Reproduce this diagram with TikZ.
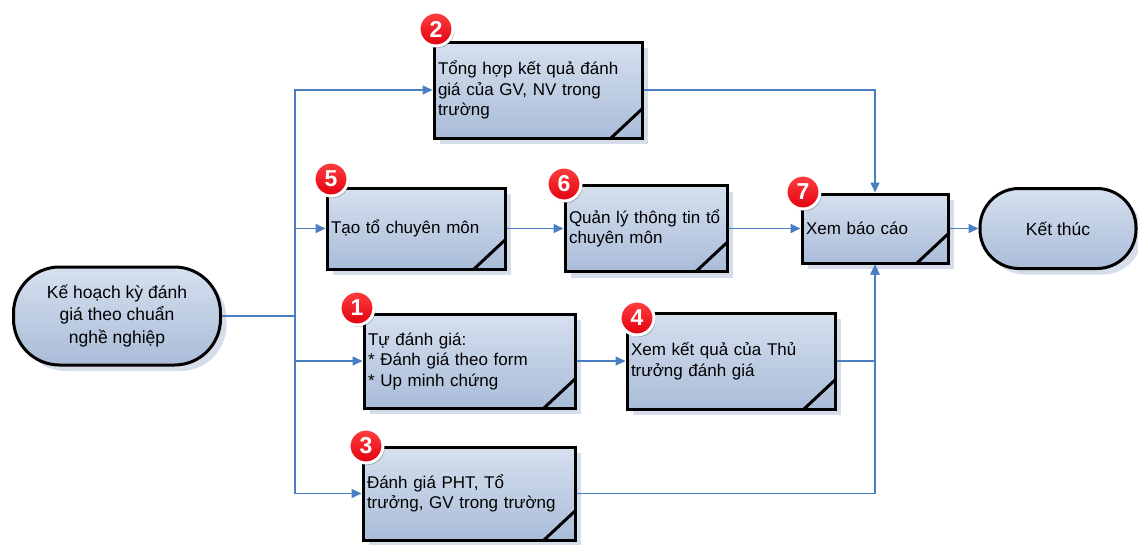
\documentclass[tikz,border=0pt]{standalone}
\usepackage{fontspec}
\setmainfont{Liberation Sans}
\usetikzlibrary{arrows.meta,shadows}
\definecolor{boxtop}{HTML}{D6E0EF}
\definecolor{boxbot}{HTML}{A9BCD8}
\definecolor{flowblue}{HTML}{4A7EC2}
\definecolor{boxshade}{HTML}{D5DDEB}
\definecolor{badgered}{HTML}{E2000F}
\tikzset{
  pbox/.style={rectangle, draw=black, line width=3pt, top color=boxtop, bottom color=boxbot,
               align=left, inner xsep=4pt, inner ysep=0pt, font=\fontsize{17}{20.5}\selectfont,
               drop shadow={shadow xshift=6pt, shadow yshift=-6pt, fill=boxshade, opacity=1},
               path picture={\draw[line width=3pt] ([xshift=-31pt]path picture bounding box.south east)
                             -- ([yshift=29pt]path picture bounding box.south east);}},
  pterm/.style={rectangle, draw=black, line width=3pt, top color=boxtop, bottom color=boxbot,
                align=center, inner sep=0pt, font=\fontsize{17.5}{22.5}\selectfont,
                drop shadow={shadow xshift=6pt, shadow yshift=-6pt, fill=boxshade, opacity=1}},
  pnum/.style={circle, draw=white, line width=3pt, top color=red!75!white, bottom color=badgered,
               minimum size=34pt, inner sep=0pt, text=white, font=\fontsize{23}{23}\selectfont\bfseries,
               drop shadow={shadow xshift=1.5pt, shadow yshift=-2pt, fill=black, opacity=0.25}},
  pflow/.style={draw=flowblue, line width=1.6pt, -{Triangle[length=10pt,width=9pt]}},
  pline/.style={draw=flowblue, line width=1.6pt},
}

\begin{document}
\begin{tikzpicture}[x=1pt,y=-1pt]
  \useasboundingbox (0,0) rectangle (1138,544);
  % start and end
  \node[pterm, rounded corners=46pt, minimum width=207pt, minimum height=98pt] (start) at (117,316)
       {Kế hoạch kỳ đánh\\giá theo chuẩn\\nghề nghiệp};
  \node[pterm, rounded corners=39pt, minimum width=156pt, minimum height=80pt] (stop) at (1058,228.5)
       {Kết thúc};
  % steps
  \node[pbox, text width=200pt, minimum height=96pt] (b2) at (538,90)
       {Tổng hợp kết quả đánh\\giá của GV, NV trong\\trường};
  \node[pbox, text width=170pt, minimum height=81pt] (b5) at (416,228.5) {Tạo tổ chuyên môn};
  \node[pbox, text width=154pt, minimum height=86pt] (b6) at (646,228.5)
       {Quản lý thông tin tổ\\chuyên môn};
  \node[pbox, text width=138pt, minimum height=69pt] (b7) at (875,228.5) {Xem báo cáo};
  \node[pbox, text width=203pt, minimum height=94pt] (b1) at (469.5,361)
       {Tự đánh giá:\\{}* Đánh giá theo form\\{}* Up minh chứng};
  \node[pbox, text width=200pt, minimum height=96pt] (b4) at (731,361)
       {Xem kết quả của Thủ\\trưởng đánh giá};
  \node[pbox, text width=204pt, minimum height=93pt] (b3) at (469,493.5)
       {Đánh giá PHT, Tổ\\trưởng, GV trong trường};
  % connectors
  \coordinate (split) at (295,316);
  \draw[pline] (start.east) -- (split);
  \draw[pflow] (split) |- (b2.west);
  \draw[pflow] (split) |- (b5.west);
  \draw[pflow] (split) |- (b1.west);
  \draw[pflow] (split) |- (b3.west);
  \draw[pflow] (b5.east) -- (b6.west);
  \draw[pflow] (b6.east) -- (b7.west);
  \draw[pflow] (b1.east) -- (b4.west);
  \draw[pflow] (b2.east) -| (b7.north);
  \draw[pflow] (b4.east) -| (b7.south);
  \draw[pflow] (b3.east) -| (b7.south);
  \draw[pflow] (b7.east) -- (stop.west);
  % number badges
  \node[pnum] (n2) at (436,29) {2};
  \node[pnum] (n5) at (331,179) {5};
  \node[pnum] (n6) at (564,184) {6};
  \node[pnum] (n7) at (803,192) {7};
  \node[pnum] (n1) at (357,308) {1};
  \node[pnum] (n4) at (637,318) {4};
  \node[pnum] (n3) at (366,446) {3};
\end{tikzpicture}
\end{document}
